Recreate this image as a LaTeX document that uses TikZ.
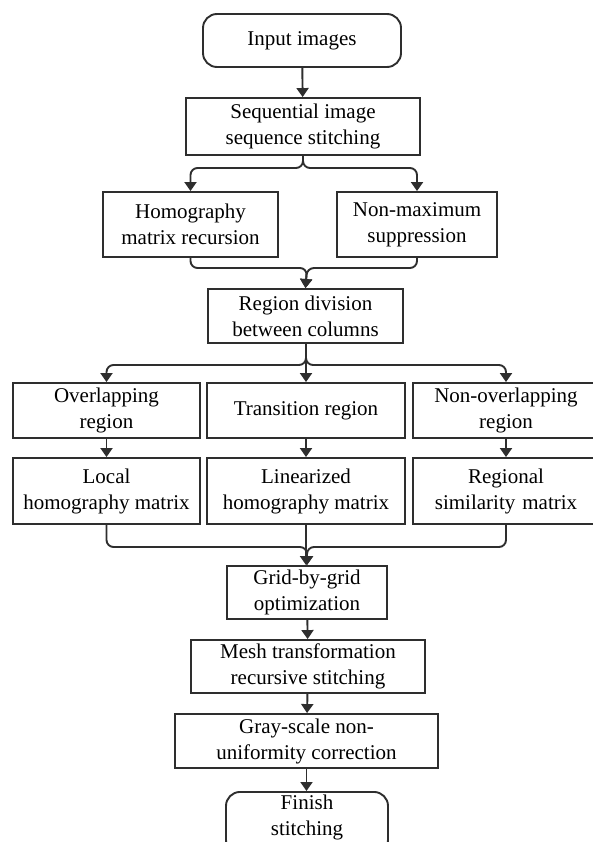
\documentclass[tikz,border=0pt]{standalone}
\usepackage{fontspec}
\setmainfont{Liberation Serif}
\usetikzlibrary{arrows.meta}
\tikzset{
  every node/.style={font=\fontsize{21}{26}\selectfont},
  box/.style={draw=black!82, line width=1.9pt, rectangle, align=center, inner sep=0pt},
  term/.style={box, rounded corners=14pt},
  link/.style={draw=black!82, line width=1.9pt, -{Triangle[width=12pt,length=9pt]}},
  joint/.style={draw=black!82, line width=1.9pt, rounded corners=7pt},
}
\begin{document}
\begin{tikzpicture}[x=1pt,y=-1pt]
\useasboundingbox (0,0) rectangle (593,842);
% nodes
\node[term, minimum width=198pt, minimum height=53pt] (inp) at (302,40.5) {Input images};
\node[box, minimum width=234pt, minimum height=57pt] (seq) at (303,126.5) {Sequential image\\sequence stitching};
\node[box, minimum width=175pt, minimum height=65pt] (hom) at (190.5,224.5) {Homography\\matrix recursion};
\node[box, minimum width=160pt, minimum height=65pt] (nms) at (417,224.5) {Non-maximum\\suppression};
\node[box, minimum width=195pt, minimum height=54pt] (reg) at (305.5,316) {Region division\\between columns};
\node[box, minimum width=187pt, minimum height=55pt] (ov) at (106.5,410.5) {Overlapping\\region};
\node[box, minimum width=198pt, minimum height=55pt] (tr) at (306,410.5) {Transition region};
\node[box, minimum width=186pt, minimum height=55pt, text width=186pt] (no) at (506,410.5) {Non-overlapping\\region};
\node[box, minimum width=187pt, minimum height=66pt] (loc) at (106.5,491) {Local\\homography matrix};
\node[box, minimum width=198pt, minimum height=66pt] (lin) at (306,491) {Linearized\\homography matrix};
\node[box, minimum width=186pt, minimum height=66pt, text width=186pt] (rs) at (506,491) {Regional\\similarity matrix};
\node[box, minimum width=160pt, minimum height=53pt] (grid) at (307,592.5) {Grid-by-grid\\optimization};
\node[box, minimum width=234pt, minimum height=53pt] (mesh) at (308,666.5) {Mesh transformation\\recursive stitching};
\node[box, minimum width=263pt, minimum height=54pt] (gray) at (306.5,741) {Gray-scale non-\\uniformity correction};
\node[term, minimum width=162pt, minimum height=62pt, anchor=north] (fin) at (307,791) {};
\node[align=center, anchor=north] (fintxt) at (307,791) {Finish\\stitching};
% coordinates for junctions
\coordinate (j1) at (303,168);
\coordinate (j2) at (307,268);
\coordinate (j3) at (306,365);
\coordinate (j4) at (307,547);
% connectors
\draw[link] (inp) -- (seq);
\draw[joint, link] (seq.south) -- (j1) -| (hom.north);
\draw[joint, link] (seq.south) -- (j1) -| (nms.north);
\draw[joint, link] (hom.south) |- (j2) -- (reg.north);
\draw[joint, link] (nms.south) |- (j2) -- (reg.north);
\draw[link] (reg.south -| tr.north) -- (tr.north);
\draw[joint, link] (reg.south -| j3) -- (j3) -| (ov.north);
\draw[joint, link] (reg.south -| j3) -- (j3) -| (no.north);
\draw[link] (ov) -- (loc);
\draw[link] (tr) -- (lin);
\draw[link] (no) -- (rs);
\draw[link] (lin.south) -- (lin.south |- grid.north);
\draw[joint, link] (loc.south) |- (j4) -- (j4 |- grid.north);
\draw[joint, link] (rs.south) |- (j4) -- (j4 |- grid.north);
\draw[link] (grid) -- (mesh);
\draw[link] (mesh) -- (gray);
\draw[link] (gray.south) -- (gray.south |- fin.north);
\end{tikzpicture}
\end{document}
